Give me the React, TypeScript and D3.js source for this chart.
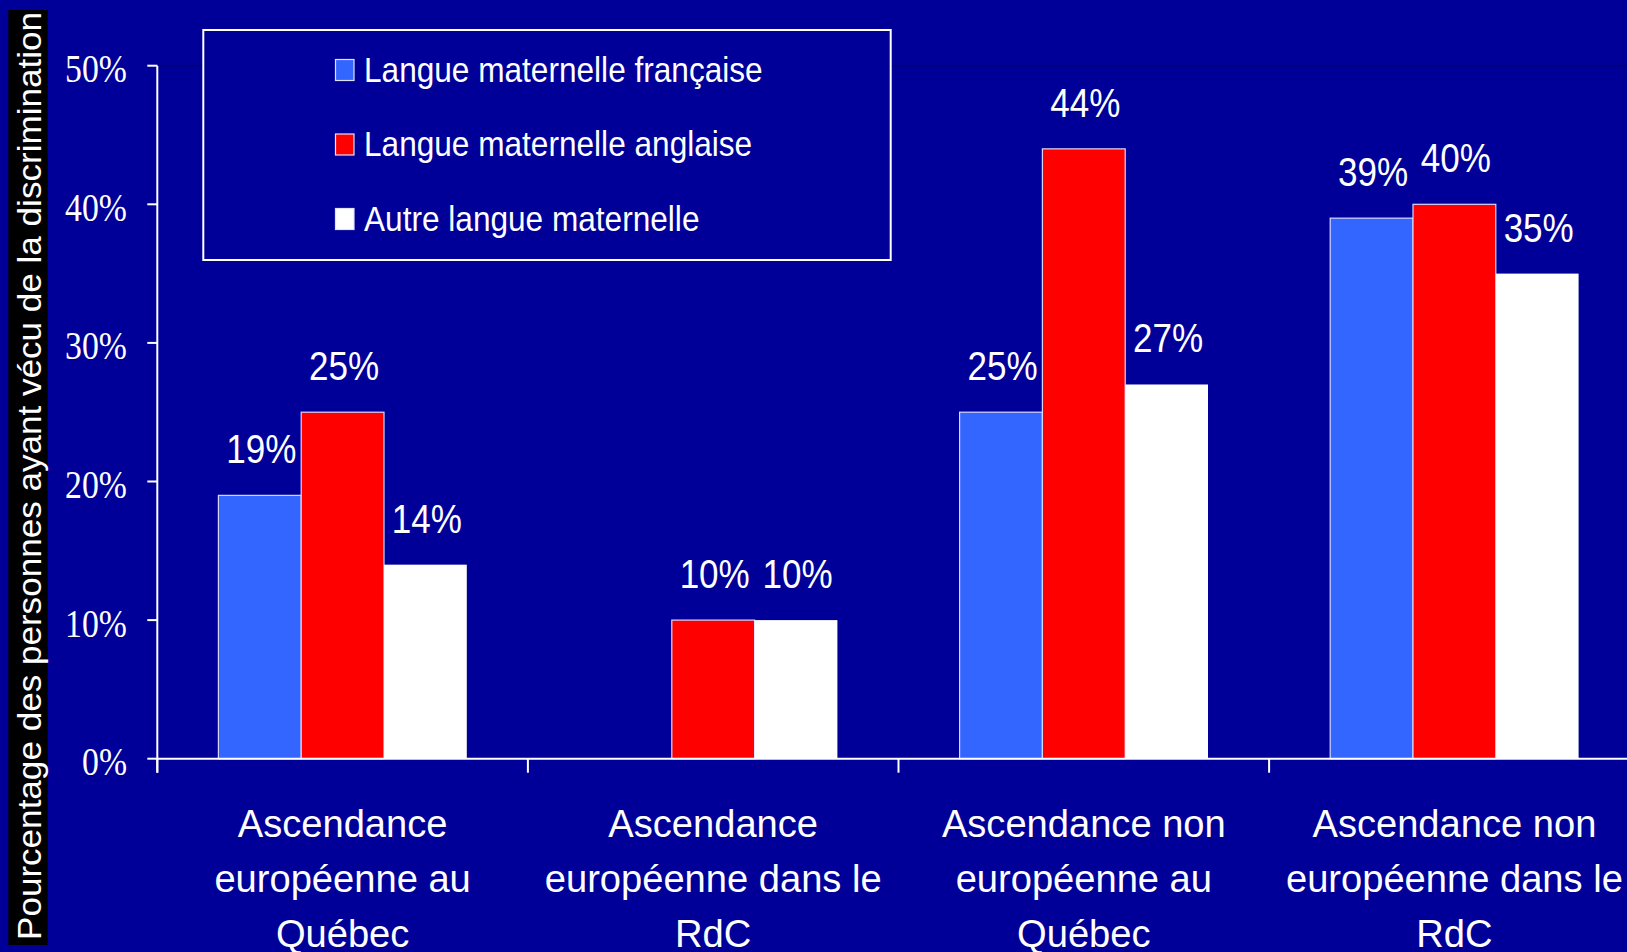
import React from "react";
import * as d3 from "d3";

const categories = [
  ["Ascendance", "européenne au", "Québec"],
  ["Ascendance", "européenne dans le", "RdC"],
  ["Ascendance non", "européenne au", "Québec"],
  ["Ascendance non", "européenne dans le", "RdC"],
];
const categoryKeys = ["eq", "er", "nq", "nr"];
const seriesNames = [
  "Langue maternelle française",
  "Langue maternelle anglaise",
  "Autre langue maternelle",
];
const seriesColors = ["#3366FF", "#FF0000", "#FFFFFF"];
const francaise = [0.19, null, 0.25, 0.39];
const anglaise = [0.25, 0.1, 0.44, 0.4];
const autre = [0.14, 0.1, 0.27, 0.35];
const seriesValues = [francaise, anglaise, autre];
const yTicks = [0, 0.1, 0.2, 0.3, 0.4, 0.5];
const yTitle = "Pourcentage des personnes ayant vécu de la discrimination";

const W = 1627;
const H = 952;
const BG = "#000099";
const SANS = "'Liberation Sans', Arial, Helvetica, sans-serif";
const SERIF = "'Liberation Serif', 'Times New Roman', serif";

export default function App() {
  const axisX = 157.3;
  const band = 370.6;
  const y = d3.scaleLinear().domain([0, 0.5]).range([758.7, 65.7]);
  const x0 = d3
    .scaleBand<string>()
    .domain(categoryKeys)
    .range([axisX, axisX + band * categoryKeys.length])
    .paddingInner(0)
    .paddingOuter(0);
  const groupPad = 61.1;
  const x1 = d3
    .scaleBand<number>()
    .domain(d3.range(seriesNames.length))
    .range([groupPad, x0.bandwidth() - groupPad])
    .paddingInner(0);

  const bars: any[] = [];
  const labels: any[] = [];
  categoryKeys.forEach((k, ci) => {
    seriesValues.forEach((vals, si) => {
      const v = vals[ci];
      if (v == null) return;
      const bx = (x0(k) as number) + (x1(si) as number);
      const bw = x1.bandwidth();
      const by = y(v);
      bars.push(
        <rect
          key={`b-${ci}-${si}`}
          x={bx}
          y={by}
          width={bw}
          height={y(0) - by}
          fill={seriesColors[si]}
          stroke={si === 2 ? "none" : "#d8d8ff"}
          strokeWidth={1.2}
        />
      );
      labels.push(
        <g key={`l-${ci}-${si}`} transform={`translate(${bx + bw / 2 + 1.5},${by - 32}) scale(0.855,1)`}>
          <text textAnchor="middle" fontFamily={SANS} fontSize={41} fill="#fff">
            {`${Math.round(v * 100)}%`}
          </text>
        </g>
      );
    });
  });

  const boundaries = d3.range(categoryKeys.length + 1).map((i) => axisX + i * x0.step());

  return (
    <div style={{ position: "fixed", left: 0, top: 0, width: W, height: H, overflow: "hidden", background: BG }}>
      <svg width={W} height={H} style={{ display: "block" }}>
        <rect x={0} y={0} width={W} height={H} fill={BG} />
        {/* plot area top border */}
        <line x1={axisX} x2={W} y1={y(0.5)} y2={y(0.5)} stroke="#00006a" strokeWidth={1.5} />

        {/* y title */}
        <rect x={8.3} y={10} width={39.4} height={935} fill="#000" />
        <text
          transform={`translate(40.7,940) rotate(-90)`}
          fontFamily={SANS}
          fontSize={33}
          fill="#fff"
          textLength={928}
          lengthAdjust="spacingAndGlyphs"
        >
          {yTitle}
        </text>

        {/* bars */}
        {bars}

        {/* y axis */}
        <line x1={axisX} x2={axisX} y1={y(0.5)} y2={772.7} stroke="#fff" strokeWidth={2} />
        {yTicks.map((t) => (
          <g key={`yt-${t}`}>
            <line x1={axisX - 10} x2={axisX} y1={y(t)} y2={y(t)} stroke="#fff" strokeWidth={2} />
            <g transform={`translate(127,${y(t) + 16.4}) scale(0.855,1)`}>
              <text textAnchor="end" fontFamily={SERIF} fontSize={39.5} fill="#fff">
                {`${Math.round(t * 100)}%`}
              </text>
            </g>
          </g>
        ))}

        {/* x axis */}
        <line x1={axisX} x2={W} y1={y(0)} y2={y(0)} stroke="#fff" strokeWidth={2} />
        {boundaries.map((bx, i) => (
          <line key={`xt-${i}`} x1={bx} x2={bx} y1={y(0)} y2={772.7} stroke="#fff" strokeWidth={2} />
        ))}
        {categoryKeys.map((k, ci) => {
          const cx = (x0(k) as number) + x0.bandwidth() / 2;
          return (
            <g key={`cat-${k}`}>
              {categories[ci].map((line, li) => (
                <g key={li} transform={`translate(${cx},${836.7 + li * 55}) scale(0.965,1)`}>
                  <text textAnchor="middle" fontFamily={SANS} fontSize={39.5} fill="#fff">
                    {line}
                  </text>
                </g>
              ))}
            </g>
          );
        })}

        {/* value labels */}
        {labels}

        {/* legend */}
        <rect x={203.3} y={30} width={687.4} height={230} fill={BG} stroke="#fff" strokeWidth={2} />
        {seriesNames.map((name, si) => {
          const base = 81.7 + si * 74.5;
          return (
            <g key={`leg-${si}`}>
              <rect
                x={335.5}
                y={base - 22.2}
                width={18.5}
                height={21}
                fill={seriesColors[si]}
                stroke="#e0e0ff"
                strokeWidth={1.2}
              />
              <g transform={`translate(364,${base}) scale(0.878,1)`}>
                <text fontFamily={SANS} fontSize={36} fill="#fff">
                  {name}
                </text>
              </g>
            </g>
          );
        })}
      </svg>
    </div>
  );
}
